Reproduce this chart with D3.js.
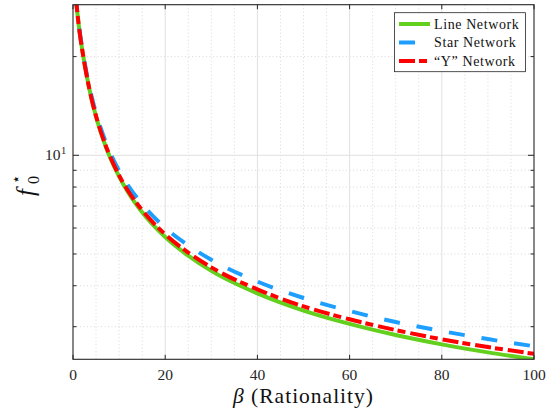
<!DOCTYPE html>
<html>
<head>
<meta charset="utf-8">
<script src="https://cdn.jsdelivr.net/npm/d3@7"></script>
<style>
  body { margin: 0; background: #fff; }
  text { font-family: "Liberation Serif", "DejaVu Serif", serif; }
</style>
</head>
<body>
<div id="chart"></div>
<script>
// values
const beta = [0.6, 0.8, 1, 1.5, 2, 3, 4, 5, 6, 7, 8, 10, 12, 15, 20, 25, 30, 40, 50, 60, 70, 80, 90, 100];
const lineNet = [30.6, 28.48, 26.74, 23.39, 20.97, 17.4, 14.89, 13.12, 11.78, 10.73, 9.88, 8.61, 7.69, 6.7, 5.63, 4.94, 4.44, 3.79, 3.36, 3.06, 2.83, 2.65, 2.505, 2.386];
const starNet = [30.7, 28.57, 26.87, 23.55, 21.18, 17.66, 15.19, 13.45, 12.13, 11.08, 10.24, 8.97, 8.07, 7.09, 6.01, 5.31, 4.8, 4.12, 3.67, 3.35, 3.1, 2.91, 2.75, 2.615];
const yNet = [30.6, 28.48, 26.74, 23.39, 20.97, 17.42, 14.92, 13.17, 11.84, 10.79, 9.95, 8.68, 7.77, 6.8, 5.74, 5.05, 4.55, 3.9, 3.46, 3.16, 2.93, 2.745, 2.6, 2.48];
const seriesNames = ["Line Network", "Star Network", "\u201CY\u201D Network"];
const xTicks = [0, 20, 40, 60, 80, 100];
const xMinor = [5, 10, 15, 25, 30, 35, 45, 50, 55, 65, 70, 75, 85, 90, 95];
const yMajor = [10];
const yMinor = [3, 4, 5, 6, 7, 8, 9, 20];

const W = 553, H = 417;
const box = {left: 73, right: 534, top: 4.7, bottom: 359.3};
const axisCol = "#262626";

const x = d3.scaleLinear().domain([0, 100]).range([box.left, box.right]);
const y = d3.scaleLog().domain([2.386, 28.8]).range([box.bottom, box.top]);

const svg = d3.select("#chart").append("svg")
  .attr("width", W).attr("height", H);

svg.append("rect").attr("x", box.left).attr("y", box.top)
  .attr("width", box.right - box.left).attr("height", box.bottom - box.top)
  .attr("fill", "#fff");

// grid
const grid = svg.append("g");
grid.selectAll(".xmin").data(xMinor).enter().append("line")
  .attr("x1", d => x(d)).attr("x2", d => x(d))
  .attr("y1", box.top).attr("y2", box.bottom)
  .attr("stroke", "#cfcfcf").attr("stroke-width", 0.8).attr("stroke-dasharray", "1,2.5");
grid.selectAll(".ymin").data(yMinor).enter().append("line")
  .attr("x1", box.left).attr("x2", box.right)
  .attr("y1", d => y(d)).attr("y2", d => y(d))
  .attr("stroke", "#cfcfcf").attr("stroke-width", 0.8).attr("stroke-dasharray", "1,2.5");
grid.selectAll(".xmaj").data(xTicks.slice(1, -1)).enter().append("line")
  .attr("x1", d => x(d)).attr("x2", d => x(d))
  .attr("y1", box.top).attr("y2", box.bottom)
  .attr("stroke", "#e0e0e0").attr("stroke-width", 1);
grid.selectAll(".ymaj").data(yMajor).enter().append("line")
  .attr("x1", box.left).attr("x2", box.right)
  .attr("y1", d => y(d)).attr("y2", d => y(d))
  .attr("stroke", "#e0e0e0").attr("stroke-width", 1);

// curves
svg.append("clipPath").attr("id", "clip").append("rect")
  .attr("x", box.left).attr("y", box.top)
  .attr("width", box.right - box.left).attr("height", box.bottom - box.top);

const line = d3.line()
  .x(d => x(d[0])).y(d => y(d[1]))
  .curve(d3.curveMonotoneX);

const series = [
  {name: seriesNames[0], vals: lineNet, color: "#62D01C", width: 4, dash: null},
  {name: seriesNames[1], vals: starNet, color: "#1E9FFF", width: 4, dash: "16,17"},
  {name: seriesNames[2], vals: yNet, color: "#FF0000", width: 4, dash: "16,4,8,5"}
];

const curves = svg.append("g").attr("clip-path", "url(#clip)");
series.forEach(s => {
  curves.append("path")
    .datum(beta.map((b, i) => [b, s.vals[i]]))
    .attr("d", line)
    .attr("fill", "none")
    .attr("stroke", s.color)
    .attr("stroke-width", s.width)
    .attr("stroke-dasharray", s.dash);
});

// axes box and ticks
const ax = svg.append("g").attr("stroke", axisCol).attr("fill", "none");
ax.append("rect").attr("x", box.left).attr("y", box.top)
  .attr("width", box.right - box.left).attr("height", box.bottom - box.top)
  .attr("stroke-width", 1.1);
xTicks.forEach(t => {
  ax.append("line").attr("x1", x(t)).attr("x2", x(t)).attr("y1", box.bottom).attr("y2", box.bottom - 4.5);
  ax.append("line").attr("x1", x(t)).attr("x2", x(t)).attr("y1", box.top).attr("y2", box.top + 4.5);
});
yMajor.forEach(t => {
  ax.append("line").attr("x1", box.left).attr("x2", box.left + 6).attr("y1", y(t)).attr("y2", y(t));
  ax.append("line").attr("x1", box.right).attr("x2", box.right - 6).attr("y1", y(t)).attr("y2", y(t));
});
yMinor.forEach(t => {
  ax.append("line").attr("x1", box.left).attr("x2", box.left + 3.5).attr("y1", y(t)).attr("y2", y(t));
  ax.append("line").attr("x1", box.right).attr("x2", box.right - 3.5).attr("y1", y(t)).attr("y2", y(t));
});

// tick labels
svg.selectAll(".xt").data(xTicks).enter().append("text")
  .attr("x", d => x(d)).attr("y", 379.5)
  .attr("text-anchor", "middle").attr("font-size", "15.5px").attr("fill", axisCol)
  .text(d => d);
yMajor.forEach(t => {
  svg.append("text").attr("x", 60.5).attr("y", y(t) + 5)
    .attr("text-anchor", "end").attr("font-size", "15.5px").attr("fill", axisCol)
    .text("10");
  svg.append("text").attr("x", 61).attr("y", y(t) - 1.5)
    .attr("font-size", "10.5px").attr("fill", axisCol).text(Math.round(Math.log10(t)));
});

// axis labels
const xl = svg.append("text").attr("x", (box.left + box.right) / 2).attr("y", 403)
  .attr("text-anchor", "middle").attr("font-size", "21.5px").attr("fill", "#111")
  .attr("letter-spacing", "1px");
xl.append("tspan").attr("font-style", "italic").text("\u03B2");
xl.append("tspan").text(" (Rationality)");

const yl = svg.append("g").attr("transform", "translate(34,196) rotate(-90)");
yl.append("text").attr("x", 0).attr("y", 0).attr("font-size", "25px")
  .attr("font-style", "italic").attr("fill", "#111").text("f");
yl.append("text").attr("x", 12).attr("y", 5).attr("font-size", "16px")
  .attr("fill", "#111").text("0");
yl.append("text").attr("x", 12).attr("y", -13).attr("font-size", "15px")
  .attr("fill", "#111").text("\u22C6");

// legend
const lg = svg.append("g");
lg.append("rect").attr("x", 394.5).attr("y", 12.7).attr("width", 131).attr("height", 59)
  .attr("fill", "#fff").attr("stroke", axisCol).attr("stroke-width", 0.8);
series.forEach((s, i) => {
  const ly = 24 + i * 18.5;
  lg.append("line").attr("x1", 399).attr("x2", 430).attr("y1", ly).attr("y2", ly)
    .attr("stroke", s.color).attr("stroke-width", s.width)
    .attr("stroke-dasharray", s.dash);
  lg.append("text").attr("x", 434).attr("y", ly + 4.5)
    .attr("font-size", "14px").attr("letter-spacing", "0.6px")
    .attr("fill", "#111").text(s.name);
});
</script>
</body>
</html>
